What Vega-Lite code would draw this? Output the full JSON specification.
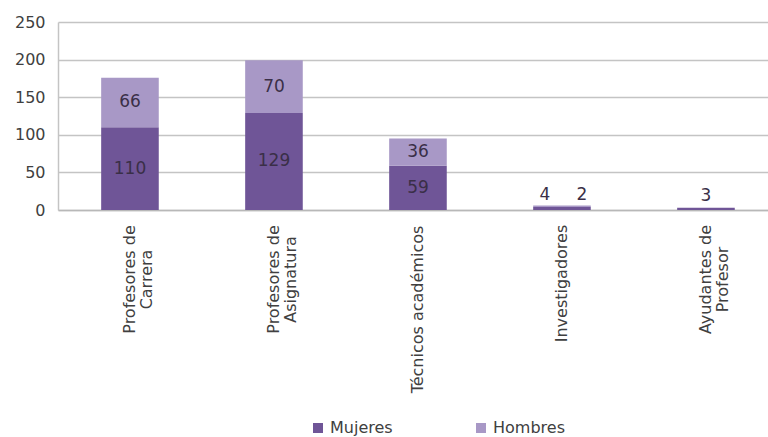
{
  "$schema": "https://vega.github.io/schema/vega-lite/v6.json",
  "width": 710,
  "height": 188,
  "autosize": "none",
  "padding": {"left": 58, "top": 22, "right": 0, "bottom": 227},
  "background": "white",
  "config": {
    "font": "DejaVu Sans",
    "view": {"stroke": null},
    "axisY": {
      "title": null,
      "labelFontSize": 16,
      "labelColor": "#404040",
      "labelPadding": 13,
      "labelOverlap": false,
      "ticks": false,
      "gridColor": "#c4c4c4",
      "gridWidth": 1.5,
      "domainColor": "#c4c4c4",
      "domainWidth": 1.5
    }
  },
  "data": {
    "values": [
      {"categoria": "Profesores de Carrera", "sexo": "Mujeres", "valor": 110},
      {"categoria": "Profesores de Carrera", "sexo": "Hombres", "valor": 66},
      {"categoria": "Profesores de Asignatura", "sexo": "Mujeres", "valor": 129},
      {"categoria": "Profesores de Asignatura", "sexo": "Hombres", "valor": 70},
      {"categoria": "Técnicos académicos", "sexo": "Mujeres", "valor": 59},
      {"categoria": "Técnicos académicos", "sexo": "Hombres", "valor": 36},
      {"categoria": "Investigadores", "sexo": "Mujeres", "valor": 4},
      {"categoria": "Investigadores", "sexo": "Hombres", "valor": 2},
      {"categoria": "Ayudantes de Profesor", "sexo": "Mujeres", "valor": 3},
      {"categoria": "Ayudantes de Profesor", "sexo": "Hombres", "valor": 0}
    ]
  },
  "transform": [
    {"stack": "valor", "groupby": ["categoria"], "sort": [{"field": "sexo", "order": "descending"}], "as": ["y0", "y1"]},
    {"calculate": "(datum.y0 + datum.y1) / 2", "as": "ymid"}
  ],
  "encoding": {
    "x": {
      "field": "categoria",
      "type": "nominal",
      "sort": null,
      "scale": {"paddingInner": 0.6, "paddingOuter": 0.2653, "align": 0.565},
      "axis": {
        "title": null,
        "labelAngle": -90,
        "labelAlign": "center",
        "labelBaseline": "middle",
        "labelFontSize": 16,
        "labelColor": "#404040",
        "labelPadding": {
          "condition": [
            {"test": "datum.value == 'Técnicos académicos'", "value": 99},
            {"test": "datum.value == 'Investigadores'", "value": 73}
          ],
          "value": 69
        },
        "labelLineHeight": 17,
        "ticks": false,
        "domainColor": "#b8b8b8",
        "domainWidth": 1.5,
        "labelExpr": "datum.label == 'Profesores de Carrera' ? ['Profesores de', 'Carrera'] : datum.label == 'Profesores de Asignatura' ? ['Profesores de', 'Asignatura'] : datum.label == 'Ayudantes de Profesor' ? ['Ayudantes de', 'Profesor'] : datum.label"
      }
    },
    "y": {
      "type": "quantitative",
      "scale": {"domain": [0, 250], "nice": false},
      "axis": {"values": [0, 50, 100, 150, 200, 250]}
    }
  },
  "layer": [
    {
      "mark": {"type": "bar"},
      "encoding": {
        "y": {
          "field": "y0",
          "type": "quantitative",
          "scale": {"domain": [0, 250], "nice": false},
          "axis": {"values": [0, 50, 100, 150, 200, 250]}
        },
        "y2": {"field": "y1"},
        "color": {
          "field": "sexo",
          "type": "nominal",
          "scale": {"domain": ["Mujeres", "Hombres"], "range": ["#6f5597", "#a898c6"]},
          "legend": {
            "title": null,
            "orient": "none",
            "direction": "horizontal",
            "legendX": 252,
            "legendY": 398,
            "symbolType": "square",
            "symbolSize": 100,
            "symbolStrokeWidth": 0,
            "labelFontSize": 16,
            "labelColor": "#404040",
            "labelOffset": 4,
            "columnPadding": 80
          }
        }
      }
    },
    {
      "transform": [
        {"filter": "datum.valor >= 10"}
      ],
      "mark": {"type": "text", "fontSize": 17, "color": "#3a2f47", "baseline": "middle"},
      "encoding": {
        "y": {"field": "ymid", "type": "quantitative", "axis": {"values": [0, 50, 100, 150, 200, 250]}},
        "text": {"field": "valor", "type": "quantitative"}
      }
    },
    {
      "transform": [
        {"filter": "datum.categoria == 'Investigadores' && datum.sexo == 'Mujeres'"}
      ],
      "mark": {"type": "text", "fontSize": 17, "color": "#3a2f47", "baseline": "bottom", "dy": -3, "dx": -17},
      "encoding": {
        "y": {"field": "y1", "type": "quantitative", "axis": {"values": [0, 50, 100, 150, 200, 250]}},
        "text": {"field": "valor", "type": "quantitative"}
      }
    },
    {
      "transform": [
        {"filter": "datum.categoria == 'Investigadores' && datum.sexo == 'Hombres'"}
      ],
      "mark": {"type": "text", "fontSize": 17, "color": "#3a2f47", "baseline": "bottom", "dy": -3, "dx": 20},
      "encoding": {
        "y": {"field": "y0", "type": "quantitative", "axis": {"values": [0, 50, 100, 150, 200, 250]}},
        "text": {"field": "valor", "type": "quantitative"}
      }
    },
    {
      "transform": [
        {"filter": "datum.categoria == 'Ayudantes de Profesor' && datum.valor > 0"}
      ],
      "mark": {"type": "text", "fontSize": 17, "color": "#3a2f47", "baseline": "bottom", "dy": -3},
      "encoding": {
        "y": {"field": "y1", "type": "quantitative", "axis": {"values": [0, 50, 100, 150, 200, 250]}},
        "text": {"field": "valor", "type": "quantitative"}
      }
    }
  ]
}
